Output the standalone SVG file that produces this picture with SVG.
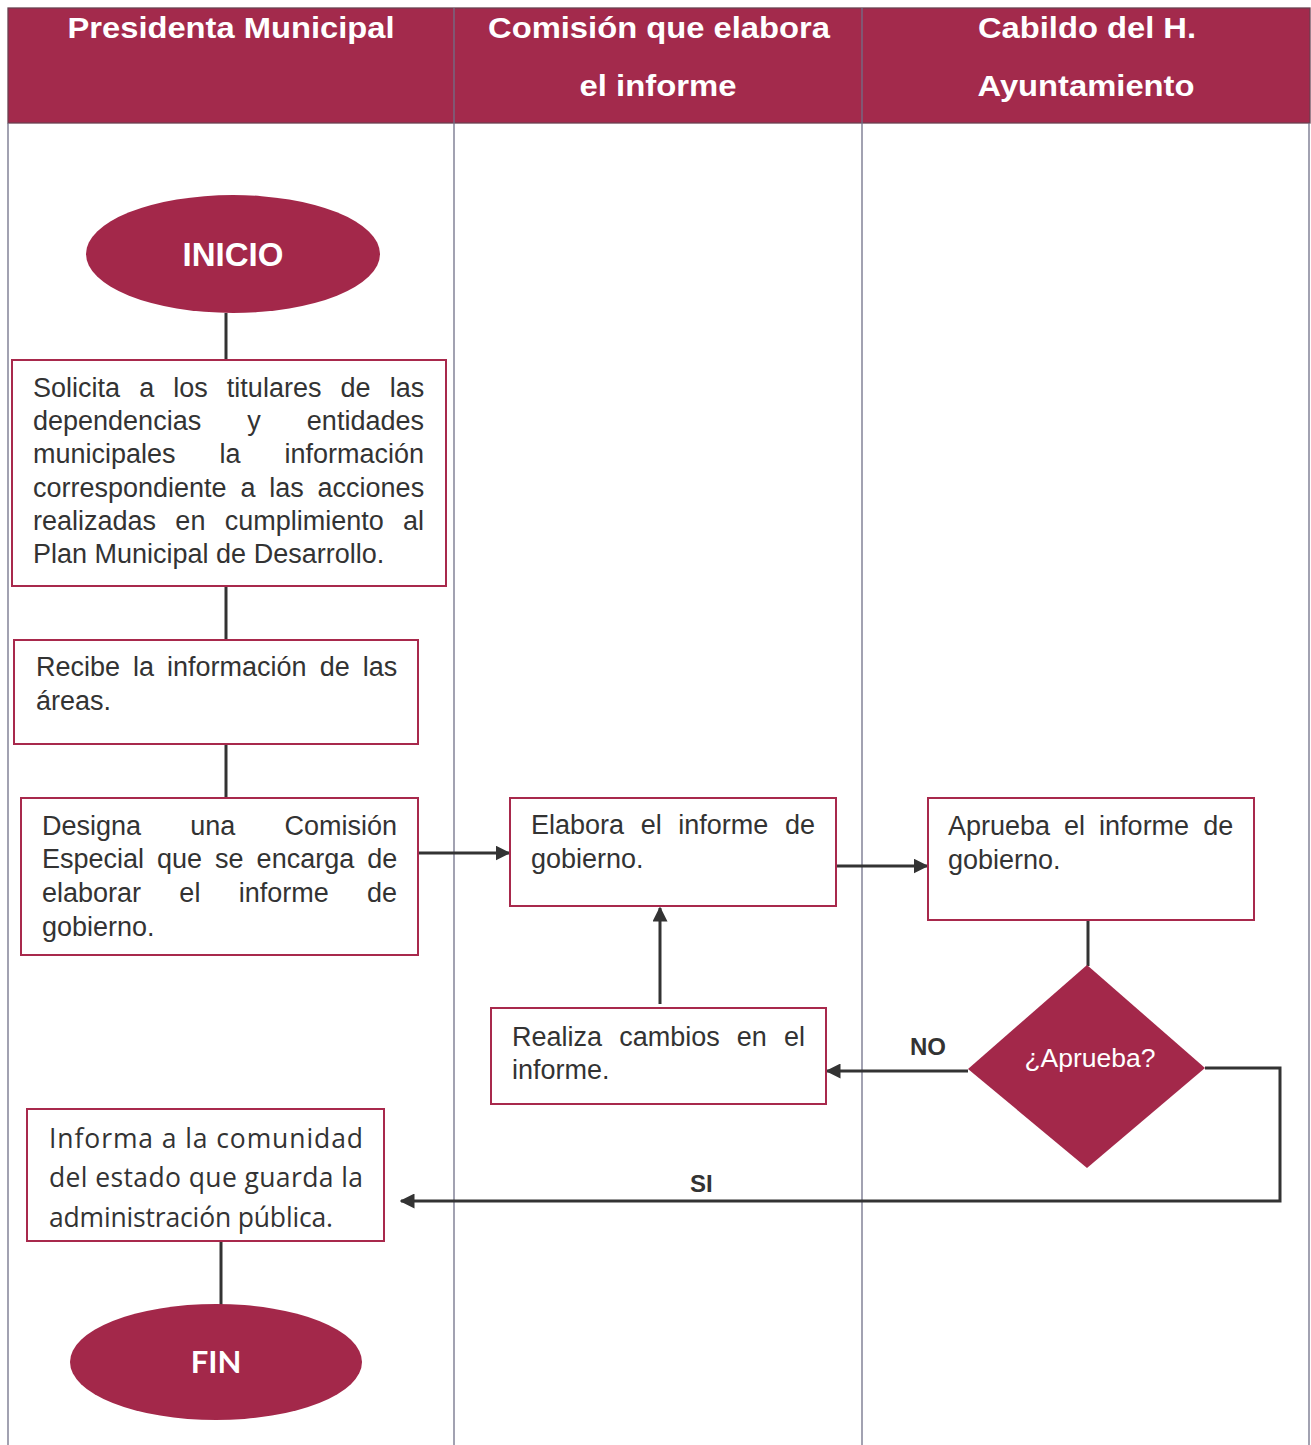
<svg xmlns="http://www.w3.org/2000/svg" width="1311" height="1445" viewBox="0 0 1311 1445">
<defs>
<style>
.hdr{font-family:"Liberation Sans",Arial,sans-serif;font-weight:bold;font-size:29px;fill:#fff;text-anchor:middle}
.box{fill:#fff;stroke:#A8294C;stroke-width:2}
.t{font-family:"Liberation Sans",Arial,sans-serif;font-size:27px;fill:#333}
.tc{font-family:"Open Sans","Noto Sans",sans-serif;font-size:26.5px;fill:#333}
.term{fill:#A3284A}
.tt{font-weight:bold;fill:#fff;text-anchor:middle}
.lane{stroke:#707088;stroke-width:1.3;fill:none}
.conn{stroke:#333;stroke-width:3;fill:none}
.lbl{font-family:"Liberation Sans",Arial,sans-serif;font-weight:bold;font-size:24px;fill:#333}
</style>
<marker id="arr" viewBox="0 0 10 10" refX="9" refY="5" markerWidth="5" markerHeight="5" orient="auto" markerUnits="strokeWidth">
<path d="M0,0 L10,5 L0,10 Z" fill="#333"/>
</marker>
</defs>
<rect width="1311" height="1445" fill="#fff"/>
<g id="header">
<rect x="8" y="8" width="1302" height="115" fill="#A32A4C" stroke="#6a4050" stroke-width="1.3"/>
<line x1="454" y1="8" x2="454" y2="123" class="lane"/>
<line x1="862" y1="8" x2="862" y2="123" class="lane"/>
<text class="hdr" x="231" y="38" textLength="327" lengthAdjust="spacingAndGlyphs">Presidenta Municipal</text>
<text class="hdr" x="659" y="38" textLength="342" lengthAdjust="spacingAndGlyphs">Comisión que elabora</text>
<text class="hdr" x="658" y="96" textLength="157" lengthAdjust="spacingAndGlyphs">el informe</text>
<text class="hdr" x="1087" y="38" textLength="218" lengthAdjust="spacingAndGlyphs">Cabildo del H.</text>
<text class="hdr" x="1086" y="96" textLength="217" lengthAdjust="spacingAndGlyphs">Ayuntamiento</text>
</g>
<g id="lanes">
<line x1="8" y1="123" x2="8" y2="1445" class="lane"/>
<line x1="454" y1="123" x2="454" y2="1445" class="lane"/>
<line x1="862" y1="123" x2="862" y2="1445" class="lane"/>
<line x1="1309" y1="123" x2="1309" y2="1445" class="lane"/>
</g>
<g id="connectors">
<line x1="226" y1="313" x2="226" y2="360" class="conn"/>
<line x1="226" y1="586" x2="226" y2="640" class="conn"/>
<line x1="226" y1="744" x2="226" y2="798" class="conn"/>
<line x1="418" y1="853" x2="509" y2="853" class="conn" marker-end="url(#arr)"/>
<line x1="836" y1="866" x2="927" y2="866" class="conn" marker-end="url(#arr)"/>
<line x1="1088" y1="920" x2="1088" y2="966" class="conn"/>
<line x1="968" y1="1071" x2="827" y2="1071" class="conn" marker-end="url(#arr)"/>
<line x1="660" y1="1004" x2="660" y2="908" class="conn" marker-end="url(#arr)"/>
<polyline points="1205,1068 1280,1068 1280,1201 401,1201" class="conn" marker-end="url(#arr)"/>
<line x1="221" y1="1241" x2="221" y2="1305" class="conn"/>
<text class="lbl" x="910" y="1055">NO</text>
<text class="lbl" x="690" y="1192">SI</text>
</g>
<g id="inicio">
<ellipse cx="233" cy="254" rx="147" ry="59" class="term"/>
<text class="tt" x="233" y="266" font-family="Liberation Sans, Arial, sans-serif" font-size="33">INICIO</text>
</g>
<g id="solicita">
<rect x="12" y="360" width="434" height="226" class="box"/>
<text class="t"><tspan x="33" y="397" word-spacing="11.6">Solicita a los titulares de las</tspan><tspan x="33" y="430" word-spacing="38.6">dependencias y entidades</tspan><tspan x="33" y="463" word-spacing="36.4">municipales la información</tspan><tspan x="33" y="497" word-spacing="6.3">correspondiente a las acciones</tspan><tspan x="33" y="530" word-spacing="11.8">realizadas en cumplimiento al</tspan><tspan x="33" y="563">Plan Municipal de Desarrollo.</tspan></text>
</g>
<g id="recibe">
<rect x="14" y="640" width="404" height="104" class="box"/>
<text class="t"><tspan x="36" y="676" word-spacing="5.5">Recibe la información de las</tspan><tspan x="36" y="710">áreas.</tspan></text>
</g>
<g id="designa">
<rect x="21" y="798" width="397" height="157" class="box"/>
<text class="t"><tspan x="42" y="835" word-spacing="41.7">Designa una Comisión</tspan><tspan x="42" y="868" word-spacing="5.5">Especial que se encarga de</tspan><tspan x="42" y="902" word-spacing="30.8">elaborar el informe de</tspan><tspan x="42" y="936">gobierno.</tspan></text>
</g>
<g id="elabora">
<rect x="510" y="798" width="326" height="108" class="box"/>
<text class="t"><tspan x="531" y="834" word-spacing="9.1">Elabora el informe de</tspan><tspan x="531" y="868">gobierno.</tspan></text>
</g>
<g id="aprueba">
<rect x="928" y="798" width="326" height="122" class="box"/>
<text class="t"><tspan x="948" y="835" word-spacing="6.5">Aprueba el informe de</tspan><tspan x="948" y="869">gobierno.</tspan></text>
</g>
<g id="decision">
<polygon points="1087,965 1205,1068 1087,1168 968,1069" class="term"/>
<text x="1090" y="1067" text-anchor="middle" font-family="Liberation Sans, Arial, sans-serif" font-size="26.5" fill="#fff">¿Aprueba?</text>
</g>
<g id="realiza">
<rect x="491" y="1008" width="335" height="96" class="box"/>
<text class="t"><tspan x="512" y="1046" word-spacing="9.6">Realiza cambios en el</tspan><tspan x="512" y="1079">informe.</tspan></text>
</g>
<g id="informa">
<rect x="27" y="1109" width="357" height="132" class="box"/>
<text class="tc" x="49" y="1148" textLength="314" lengthAdjust="spacing">Informa a la comunidad</text>
<text class="tc" x="49" y="1187" textLength="314" lengthAdjust="spacing">del estado que guarda la</text>
<text class="tc" x="49" y="1227" textLength="284" lengthAdjust="spacing">administración pública.</text>
</g>
<g id="fin">
<ellipse cx="216" cy="1362" rx="146" ry="58" class="term"/>
<text class="tt" x="216" y="1373" font-family="Lato, Open Sans, sans-serif" font-size="31">FIN</text>
</g>
</svg>
